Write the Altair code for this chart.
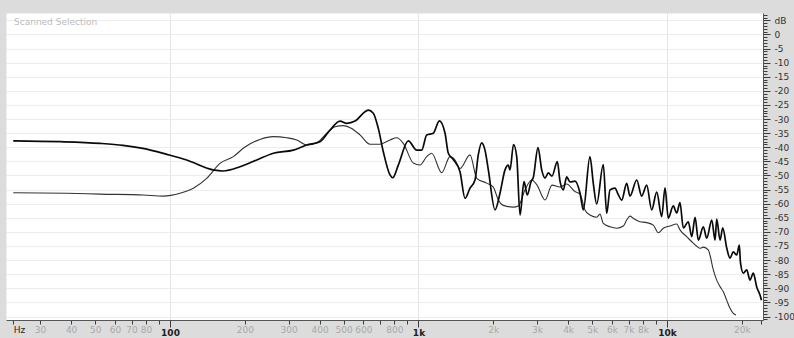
import altair as alt
import pandas as pd

# Frequency analysis of two takes: frequency in Hz, level in dB
loud_hz = [23.4, 36.1, 52.3, 64.7, 77.8, 97.0, 116.7, 148.9, 163.4, 191.3,
           223.3, 260.5, 313.5, 354.9, 401.4, 440.5, 483.1, 514.1, 555.3, 609.1,
           628.1, 657.9, 689.1, 721.8, 767.9, 787.6, 829.2, 909.8, 983.5, 1030,
           1079, 1147, 1213, 1279, 1318, 1380, 1469, 1539, 1612, 1688,
           1740, 1796, 1852, 1910, 2032, 2128, 2229, 2298, 2335, 2412,
           2485, 2562, 2658, 2741, 2837, 2897, 3026, 3132, 3229, 3329,
           3445, 3619, 3710, 3825, 3948, 4071, 4264, 4466, 4605, 4898,
           5050, 5213, 5542, 5719, 5897, 6177, 6351, 6573, 6884, 7098,
           7552, 7910, 8285, 8678, 9091, 9521, 9817, 10120, 10600, 10940,
           11280, 11630, 12180, 12580, 12970, 13370, 14000, 14450, 15140, 15610,
           15850, 16350, 16760, 17390, 17930, 18490, 19080, 19540, 19760, 20280,
           20930, 21580, 22250, 22960, 23670, 24000]
loud_db = [-37.7, -38.0, -38.6, -39.3, -40.4, -42.5, -44.5, -48.0, -48.4, -46.9,
           -44.5, -42.1, -41.0, -39.2, -38.0, -33.9, -30.7, -31.5, -30.7, -27.4,
           -26.8, -27.9, -33.3, -41.6, -49.8, -50.8, -46.3, -37.7, -41.0, -41.0,
           -35.6, -35.0, -30.6, -35.0, -42.1, -44.3, -48.7, -58.1, -54.5, -51.6,
           -42.7, -38.4, -41.0, -48.0, -62.2, -56.3, -48.0, -46.3, -48.0, -39.0,
           -43.4, -64.0, -52.2, -56.9, -52.2, -50.7, -40.1, -48.0, -50.9, -49.1,
           -50.2, -45.1, -52.0, -55.1, -50.5, -52.3, -52.0, -56.2, -62.2, -43.3,
           -52.7, -60.1, -46.1, -63.4, -55.1, -54.5, -56.6, -58.7, -52.8, -57.3,
           -51.6, -57.3, -53.4, -62.2, -55.9, -64.6, -54.4, -65.1, -60.8, -63.3,
           -59.6, -68.6, -66.4, -71.7, -64.8, -72.9, -68.2, -72.2, -65.8, -72.9,
           -65.5, -72.9, -68.6, -75.7, -79.3, -77.1, -78.2, -74.7, -81.0, -84.6,
           -83.5, -87.1, -84.6, -89.5, -92.4, -94.2]

quiet_hz = [23.4, 38.4, 52.3, 78.1, 94.0, 109.7, 124.1, 140.5, 158.9, 179.8,
            200.4, 230.2, 260.5, 294.9, 323.6, 354.9, 395.2, 427.2, 461.3, 498.3,
            538.6, 581.5, 637.9, 700.1, 767.9, 817.1, 868.5, 953.1, 1014, 1079,
            1130, 1240, 1339, 1403, 1469, 1612, 1715, 1881, 2000, 2095,
            2194, 2407, 2521, 2683, 2855, 2999, 3229, 3445, 3710, 3948,
            4264, 4466, 4677, 4898, 5213, 5375, 5542, 5897, 6278, 6671,
            6884, 7098, 7318, 7786, 8285, 8808, 9226, 9663, 10280, 10940,
            11280, 12000, 12760, 13580, 14000, 14660, 14890, 15360, 15850, 16350,
            16850, 17390, 17930, 18490, 18950]
quiet_db = [-56.1, -56.3, -56.6, -56.9, -57.3, -56.3, -54.5, -51.0, -45.7, -43.3,
            -39.9, -37.2, -36.2, -36.6, -37.4, -39.2, -38.0, -35.0, -32.7, -32.3,
            -33.3, -35.6, -38.9, -38.9, -37.4, -36.6, -38.6, -45.6, -46.3, -43.3,
            -42.1, -49.0, -43.3, -44.5, -47.5, -42.7, -51.0, -52.7, -54.1, -58.7,
            -60.6, -61.2, -60.8, -55.1, -51.6, -53.4, -58.7, -53.4, -54.1, -53.0,
            -55.7, -56.6, -62.2, -64.0, -64.8, -63.7, -67.0, -68.2, -68.7, -67.9,
            -65.8, -64.4, -65.2, -66.4, -66.7, -67.6, -70.3, -68.7, -67.9, -67.2,
            -69.3, -71.7, -74.0, -75.8, -75.4, -76.4, -78.2, -83.5, -87.1, -89.4,
            -91.2, -94.2, -97.1, -98.9, -99.5]

# Frequency ruler: tick positions and their labels ("" = unlabelled tick)
x_ticks = [23.4, 30, 40, 50, 60, 70, 80, 90, 100, 200, 300, 400, 500, 600, 700,
           800, 900, 1000, 2000, 3000, 4000, 5000, 6000, 7000, 8000, 9000, 10000,
           20000, 24000]
x_labels = ["Hz", "30", "40", "50", "60", "70", "80", "", "100", "200", "300",
            "400", "500", "600", "", "800", "", "1k", "2k", "3k", "4k", "5k", "6k",
            "7k", "8k", "", "10k", "20k", ""]
x_major = [100, 1000, 10000]

# Level ruler: a tick every dB, a label every 5 dB, unit shown at the top
y_ticks = list(range(7, -102, -1))
y_unit_tick = 5

FONT = "DejaVu Sans"

label_expr = "''"
for v, lab in reversed(list(zip(x_ticks, x_labels))):
    label_expr = f"datum.value == {v} ? '{lab}' : ({label_expr})"

major_test = "indexof([" + ",".join(str(v) for v in x_major) + "], datum.value) >= 0"

x_axis = alt.Axis(
    title=None, values=x_ticks, tickCount=1000, labelExpr=label_expr, labelOverlap=False,
    labelFlush=False, labelFont=FONT, labelFontSize=9, labelPadding=1,
    labelAlign={"condition": {"test": "datum.value < 25", "value": "left"}, "value": "center"},
    labelColor={"condition": {"test": major_test + " || datum.value < 25", "value": "#1e1e1e"},
                "value": "#a8a8a8"},
    labelFontWeight={"condition": {"test": major_test, "value": "bold"}, "value": "normal"},
    tickSize={"condition": {"test": major_test, "value": 7}, "value": 4},
    tickColor="#3c3c3c", domainColor="#555555",
    gridColor="#e4e4e4",
    gridOpacity={"condition": {"test": major_test, "value": 1}, "value": 0},
)

y_axis = alt.Axis(
    title=None, orient="right", values=y_ticks, tickCount=1000, labelOverlap=False,
    labelFlush=False,
    labelExpr=f"datum.value == {y_unit_tick} ? 'dB' : (datum.value % 5 == 0 ? '' + datum.value : '')",
    labelFont=FONT, labelFontSize=9, labelColor="#333333", labelPadding=4,
    tickSize={"condition": {"test": "datum.value % 5 == 0", "value": 7}, "value": 4},
    tickColor="#3c3c3c", domainColor="#555555",
    gridColor="#ececec",
    gridOpacity={"condition": {"test": "datum.value % 5 == 0 && datum.value <= 5", "value": 1},
                 "value": 0},
)

x_scale = alt.Scale(type="log", domain=[21.88, 24340], nice=False)
y_scale = alt.Scale(domain=[-101.24, 7.62], nice=False, zero=False)

loud = pd.DataFrame({"freq": loud_hz, "level": loud_db})
quiet = pd.DataFrame({"freq": quiet_hz, "level": quiet_db})

quiet_line = alt.Chart(quiet).mark_line(
    color="#333333", strokeWidth=1.1, interpolate="monotone", clip=True
).encode(
    x=alt.X("freq:Q", scale=x_scale, axis=x_axis),
    y=alt.Y("level:Q", scale=y_scale, axis=y_axis),
)
loud_line = alt.Chart(loud).mark_line(
    color="#0a0a0a", strokeWidth=1.7, interpolate="monotone", clip=True
).encode(
    x=alt.X("freq:Q", scale=x_scale),
    y=alt.Y("level:Q", scale=y_scale),
)

caption = alt.Chart(pd.DataFrame({"t": ["Scanned Selection"]})).mark_text(
    align="left", baseline="middle", font=FONT, fontSize=9, color="#bcbcbc"
).encode(text="t:N", x=alt.value(8), y=alt.value(9))

chart = alt.layer(quiet_line, loud_line, caption).properties(
    width=757, height=307,
    autosize=alt.AutoSizeParams(type="none"),
    padding={"left": 6, "top": 13, "right": 31, "bottom": 18},
    background="#dcdcdc",
).configure_view(fill="white", strokeOpacity=0)

chart.save("out.html", embed_options={"renderer": "svg", "actions": False})
